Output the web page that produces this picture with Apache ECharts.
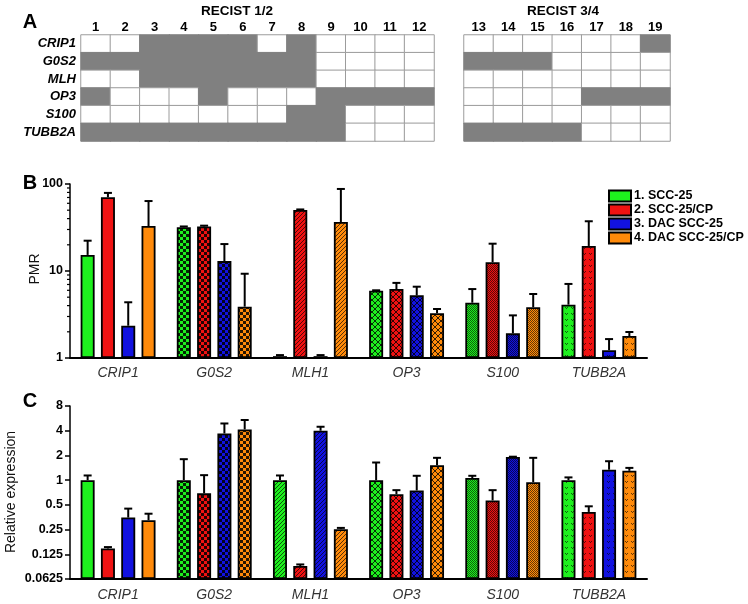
<!DOCTYPE html>
<html>
<head>
<meta charset="utf-8">
<script src="https://cdn.jsdelivr.net/npm/echarts@6/dist/echarts.min.js"></script>
<style>html,body{margin:0;padding:0;background:#fff}#c{width:748px;height:604px}</style>
</head>
<body>
<div id="c"></div>
<script>
// ---------- DATA ----------
// Panel A (1 = methylated / grey cell)
const hmCols1 = ['1','2','3','4','5','6','7','8','9','10','11','12'];
const hmCols2 = ['13','14','15','16','17','18','19'];
const hmRows = ['CRIP1','G0S2','MLH','OP3','S100','TUBB2A'];
const hmCRIP1  = [0,0,1,1,1,1,0,1,0,0,0,0, 0,0,0,0,0,0,1];
const hmG0S2   = [1,1,1,1,1,1,1,1,0,0,0,0, 1,1,1,0,0,0,0];
const hmMLH    = [0,0,1,1,1,1,1,1,0,0,0,0, 0,0,0,0,0,0,0];
const hmOP3    = [1,0,0,0,1,0,0,0,1,1,1,1, 0,0,0,0,1,1,1];
const hmS100   = [0,0,0,0,0,0,0,1,1,0,0,0, 0,0,0,0,0,0,0];
const hmTUBB2A = [1,1,1,1,1,1,1,1,1,0,0,0, 1,1,1,1,0,0,0];
const hmData = [hmCRIP1, hmG0S2, hmMLH, hmOP3, hmS100, hmTUBB2A];

// Panels B and C
const categories = ['CRIP1','G0S2','MLH1','OP3','S100','TUBB2A'];
const seriesNames = ['1. SCC-25','2. SCC-25/CP','3. DAC SCC-25','4. DAC SCC-25/CP'];

// B: PMR (mean and mean+SD)
const pmr1 = [15.3, 31.8, 1.05, 5.94, 4.32, 4.1];
const pmr2 = [70.3, 32.5, 50.3, 6.2, 12.6, 19.4];
const pmr3 = [2.35, 13.0, 1.05, 5.25, 1.92, 1.23];
const pmr4 = [32.9, 3.89, 36.6, 3.27, 3.83, 1.79];
const pmrUp1 = [22.3, 32.5, 1.08, 6.0, 6.2, 7.1];
const pmrUp2 = [79, 33.2, 51, 7.3, 20.6, 37.3];
const pmrUp3 = [4.37, 20.4, 1.08, 6.6, 3.09, 1.65];
const pmrUp4 = [63.7, 9.3, 87.7, 3.66, 5.44, 1.99];
const pmrTicks = [1, 10, 100];
const pmrMinorTicks = [2,3,4,5,6,7,8,9,20,30,40,50,60,70,80,90];

// C: relative expression (mean and mean+SD)
const expr1 = [1.0, 1.0, 1.0, 1.0, 1.06, 1.0];
const expr2 = [0.147, 0.69, 0.09, 0.675, 0.566, 0.41];
const expr3 = [0.35, 3.7, 4.0, 0.75, 1.91, 1.34];
const expr4 = [0.325, 4.15, 0.253, 1.52, 0.945, 1.30];
const exprUp1 = [1.14, 1.8, 1.14, 1.64, 1.13, 1.08];
const exprUp2 = [0.153, 1.15, 0.094, 0.755, 0.755, 0.48];
const exprUp3 = [0.45, 4.9, 4.47, 1.13, 1.93, 1.7];
const exprUp4 = [0.39, 5.4, 0.262, 1.87, 1.87, 1.41];
const exprTicks = ['0.0625','0.125','0.25','0.5','1','2','4','8'];

// ---------- STYLE ----------
const FONT = '"Liberation Sans", Arial, sans-serif';
const colors = ['#1ef01e', '#f01212', '#1212e0', '#ff8a0a'];
const patternTypes = ['solid','checker','hatch','mesh','fine','dots'];
const BAR_W = 14, BAR_GAP = 0.45;

function makePattern(color, type) {
  if (type === 'solid') return color;
  const c = document.createElement('canvas');
  let s = 6;
  if (type === 'hatch') s = 4;
  if (type === 'fine') s = 2;
  c.width = s; c.height = s;
  const g = c.getContext('2d');
  g.fillStyle = color; g.fillRect(0, 0, s, s);
  if (type === 'checker') { g.fillStyle = 'rgba(0,0,0,0.85)'; g.fillRect(0,0,3,3); g.fillRect(3,3,3,3); }
  if (type === 'hatch') { g.fillStyle = 'rgba(0,0,0,0.65)'; for (let i=0;i<4;i++) g.fillRect(i,3-i,1,1); }
  if (type === 'mesh') {
    g.fillStyle = 'rgba(0,0,0,0.8)';
    for (let i=0;i<6;i++){ g.fillRect(i,i,1,1); g.fillRect(i,5-i,1,1); }
  }
  if (type === 'fine') { g.fillStyle = 'rgba(0,0,0,0.6)'; g.fillRect(0,0,1,1); g.fillRect(1,1,1,1); }
  if (type === 'dots') { g.fillStyle = 'rgba(0,0,0,0.6)'; g.fillRect(1,1,1,1); g.fillRect(3,1,1,1); g.fillRect(2,2,1,1); }
  return { image: c, repeat: 'repeat' };
}

function heatItems(colStart, colCount) {
  const out = [];
  hmData.forEach((row, r) => {
    for (let c = 0; c < colCount; c++) {
      const v = row[colStart + c];
      out.push({ value: [c, r, v], itemStyle: { color: v ? '#808080' : '#ffffff', borderColor: v ? '#808080' : '#9c9c9c' } });
    }
  });
  return out;
}

function barData(vals, si) {
  return vals.map((v, i) => ({ value: v, itemStyle: { color: makePattern(colors[si], patternTypes[i]) } }));
}

function errData(upperArrs, meanArrs) {
  const out = [];
  upperArrs.forEach((ups, s) => ups.forEach((u, i) => out.push([i, s, u, meanArrs[s][i]])));
  return out;
}

function renderErr(params, api) {
  const cat = api.value(0), s = api.value(1), up = api.value(2), mean = api.value(3);
  const p0 = api.coord([cat, mean]);
  const p1 = api.coord([cat, up]);
  const step = BAR_W * (1 + BAR_GAP);
  const total = 4 * BAR_W + 3 * BAR_W * BAR_GAP;
  const x = p0[0] - total / 2 + BAR_W / 2 + s * step;
  const st = { stroke: '#000', lineWidth: 2 };
  return { type: 'group', children: [
    { type: 'line', shape: { x1: x, y1: p0[1], x2: x, y2: p1[1] }, style: st },
    { type: 'line', shape: { x1: x - 4, y1: p1[1], x2: x + 4, y2: p1[1] }, style: st }
  ]};
}

function renderMinor(params, api) {
  const y = api.coord([0, api.value(1)])[1];
  const x = params.coordSys.x;
  return { type: 'line', shape: { x1: x - 3, y1: y, x2: x, y2: y }, style: { stroke: '#000', lineWidth: 1.2 } };
}

const chart = echarts.init(document.getElementById('c'), null, { renderer: 'canvas' });

const gridB = { left: 70, right: 101, top: 184, height: 174 };
const gridC = { left: 70, right: 101, top: 406, height: 173 };

const yLabel = { fontFamily: FONT, fontWeight: 'bold', fontSize: 12.5, color: '#000', margin: 7 };
const xLabel = { fontFamily: FONT, fontStyle: 'italic', fontSize: 14, color: '#333' };

const series = [
  { type: 'heatmap', xAxisIndex: 0, yAxisIndex: 0, data: heatItems(0, 12), itemStyle: { borderWidth: 1 }, emphasis: { disabled: true } },
  { type: 'heatmap', xAxisIndex: 1, yAxisIndex: 1, data: heatItems(12, 7), itemStyle: { borderWidth: 1 }, emphasis: { disabled: true } }
];
const pmrArrs = [pmr1, pmr2, pmr3, pmr4];
const exprArrs = [expr1, expr2, expr3, expr4];
pmrArrs.forEach((arr, s) => series.push({
  name: seriesNames[s], type: 'bar', xAxisIndex: 2, yAxisIndex: 2, barWidth: BAR_W, barGap: (BAR_GAP * 100) + '%',
  itemStyle: { color: colors[s], borderColor: '#000', borderWidth: 1.8 }, data: barData(arr, s)
}));
exprArrs.forEach((arr, s) => series.push({
  name: seriesNames[s], type: 'bar', xAxisIndex: 3, yAxisIndex: 3, barWidth: BAR_W, barGap: (BAR_GAP * 100) + '%',
  itemStyle: { color: colors[s], borderColor: '#000', borderWidth: 1.8 }, data: barData(arr, s)
}));
series.push({ type: 'custom', xAxisIndex: 2, yAxisIndex: 2, renderItem: renderErr, encode: { x: 0, y: [2, 3] }, data: errData([pmrUp1, pmrUp2, pmrUp3, pmrUp4], pmrArrs), z: 1, clip: false });
series.push({ type: 'custom', xAxisIndex: 3, yAxisIndex: 3, renderItem: renderErr, encode: { x: 0, y: [2, 3] }, data: errData([exprUp1, exprUp2, exprUp3, exprUp4], exprArrs), z: 1, clip: false });
series.push({ type: 'custom', xAxisIndex: 2, yAxisIndex: 2, renderItem: renderMinor, encode: { x: 0, y: 1 }, data: pmrMinorTicks.map(v => [0, v]), clip: false, silent: true });

chart.setOption({
  animation: false,
  backgroundColor: '#fff',
  legend: {
    data: seriesNames, orient: 'vertical', left: 608, top: 189, padding: 0, itemWidth: 22, itemHeight: 11, itemGap: 0,
    icon: 'rect', selectedMode: false,
    itemStyle: { borderColor: '#000', borderWidth: 2 },
    textStyle: { fontFamily: FONT, fontWeight: 'bold', fontSize: 12.5, lineHeight: 14, color: '#000', padding: [0, 0, 0, -2] }
  },
  grid: [
    { left: 81, top: 35, width: 353, height: 106 },
    { left: 464, top: 35, width: 206, height: 106 },
    gridB, gridC
  ],
  xAxis: [
    { gridIndex: 0, type: 'category', position: 'top', data: hmCols1, axisLine: { show: false }, axisTick: { show: false }, splitLine: { show: false },
      axisLabel: { fontFamily: FONT, fontWeight: 'bold', fontSize: 13, color: '#000', margin: 1 } },
    { gridIndex: 1, type: 'category', position: 'top', data: hmCols2, axisLine: { show: false }, axisTick: { show: false }, splitLine: { show: false },
      axisLabel: { fontFamily: FONT, fontWeight: 'bold', fontSize: 13, color: '#000', margin: 1 } },
    { gridIndex: 2, type: 'category', data: categories, axisLine: { lineStyle: { color: '#000', width: 2 } }, axisTick: { show: false },
      axisLabel: Object.assign({ margin: 8 }, xLabel) },
    { gridIndex: 3, type: 'category', data: categories, axisLine: { lineStyle: { color: '#000', width: 2 } }, axisTick: { show: false },
      axisLabel: Object.assign({ margin: 9 }, xLabel) }
  ],
  yAxis: [
    { gridIndex: 0, type: 'category', inverse: true, data: hmRows, axisLine: { show: false }, axisTick: { show: false }, splitLine: { show: false },
      axisLabel: { fontFamily: FONT, fontWeight: 'bold', fontStyle: 'italic', fontSize: 13, color: '#000', margin: 5 } },
    { gridIndex: 1, type: 'category', inverse: true, data: hmRows, axisLine: { show: false }, axisTick: { show: false }, axisLabel: { show: false }, splitLine: { show: false } },
    { gridIndex: 2, type: 'log', logBase: 10, min: pmrTicks[0], max: pmrTicks[pmrTicks.length - 1], interval: 1,
      axisLine: { show: true, lineStyle: { color: '#000', width: 1.5 } }, axisTick: { show: true, length: 5, lineStyle: { color: '#000', width: 1.5 } },
      splitLine: { show: false }, axisLabel: yLabel },
    { gridIndex: 3, type: 'log', logBase: 2, min: +exprTicks[0], max: +exprTicks[exprTicks.length - 1], interval: 1, startValue: +exprTicks[0],
      axisLine: { show: true, lineStyle: { color: '#000', width: 1.5 } }, axisTick: { show: true, length: 5, lineStyle: { color: '#000', width: 1.5 } },
      splitLine: { show: false },
      axisLabel: Object.assign({ formatter: v => exprTicks.find(t => Math.abs(+t - v) < 1e-6 * Math.max(1, v)) || String(+v.toPrecision(6)) }, yLabel) }
  ],
  graphic: [
    { type: 'text', x: 30, y: 22, style: { text: 'A', fontFamily: FONT, fontWeight: 'bold', fontSize: 20, fill: '#000', align: 'center', verticalAlign: 'middle' } },
    { type: 'text', x: 30, y: 183, style: { text: 'B', fontFamily: FONT, fontWeight: 'bold', fontSize: 20, fill: '#000', align: 'center', verticalAlign: 'middle' } },
    { type: 'text', x: 30, y: 401, style: { text: 'C', fontFamily: FONT, fontWeight: 'bold', fontSize: 20, fill: '#000', align: 'center', verticalAlign: 'middle' } },
    { type: 'text', x: 237, y: 11, style: { text: 'RECIST 1/2', fontFamily: FONT, fontWeight: 'bold', fontSize: 13.5, fill: '#000', align: 'center', verticalAlign: 'middle' } },
    { type: 'text', x: 563, y: 11, style: { text: 'RECIST 3/4', fontFamily: FONT, fontWeight: 'bold', fontSize: 13.5, fill: '#000', align: 'center', verticalAlign: 'middle' } },
    { type: 'text', x: 35, y: 269, rotation: Math.PI / 2, style: { text: 'PMR', fontFamily: FONT, fontSize: 14, fill: '#111', align: 'center', verticalAlign: 'middle' } },
    { type: 'text', x: 11, y: 492, rotation: Math.PI / 2, style: { text: 'Relative expression', fontFamily: FONT, fontSize: 14, fill: '#111', align: 'center', verticalAlign: 'middle' } }
  ],
  series: series
});
</script>
</body>
</html>
